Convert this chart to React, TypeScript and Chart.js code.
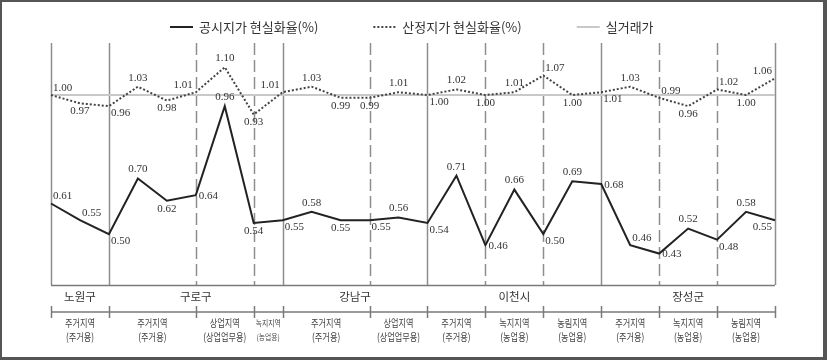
import React, { useEffect, useRef } from 'react';
import { Chart, registerables } from 'chart.js';

Chart.register(...registerables);

// ---- data ----
const gongsi = [0.61, 0.55, 0.50, 0.70, 0.62, 0.64, 0.96, 0.54, 0.55, 0.58, 0.55, 0.55, 0.56, 0.54, 0.71, 0.46, 0.66, 0.50, 0.69, 0.68, 0.46, 0.43, 0.52, 0.48, 0.58, 0.55];
const sanjeong = [1.00, 0.97, 0.96, 1.03, 0.98, 1.01, 1.10, 0.93, 1.01, 1.03, 0.99, 0.99, 1.01, 1.00, 1.02, 1.00, 1.01, 1.07, 1.00, 1.01, 1.03, 0.99, 0.96, 1.02, 1.00, 1.06];
const silgeorae = [1.00, 1.00, 1.00, 1.00, 1.00, 1.00, 1.00, 1.00, 1.00, 1.00, 1.00, 1.00, 1.00, 1.00, 1.00, 1.00, 1.00, 1.00, 1.00, 1.00, 1.00, 1.00, 1.00, 1.00, 1.00, 1.00];

const seriesNames = ['공시지가 현실화율(%)', '산정지가 현실화율(%)', '실거래가'];

const districts = ['노원구', '구로구', '강남구', '이천시', '장성군'];
const districtSpans = [[0, 2], [2, 8], [8, 13], [13, 19], [19, 25]];
const zoneNames = ['주거지역', '주거지역', '상업지역', '녹지지역', '주거지역', '상업지역', '주거지역', '녹지지역', '농림지역', '주거지역', '녹지지역', '농림지역'];
const zoneUses = ['(주거용)', '(주거용)', '(상업업무용)', '(농업용)', '(주거용)', '(상업업무용)', '(주거용)', '(농업용)', '(농업용)', '(주거용)', '(농업용)', '(농업용)'];
const zoneSpans = [[0, 2], [2, 5], [5, 7], [7, 8], [8, 11], [11, 13], [13, 15], [15, 17], [17, 19], [19, 21], [21, 23], [23, 25]];

// label placement (anchor names)
const gongsiAnchor = ['NE', 'NE', 'SE', 'N', 'S', 'E', 'N', 'S', 'SE', 'N', 'S', 'SE', 'N', 'SE', 'N', 'E', 'N', 'SE', 'N', 'E', 'NE', 'E', 'N', 'SE', 'N', 'SW'];
const sanjeongAnchor = ['NE', 'S', 'SE', 'N', 'S', 'NW', 'N', 'S', 'NW', 'N', 'S', 'S', 'N', 'SE', 'N', 'S', 'N', 'NE', 'S', 'SE', 'N', 'NE', 'S', 'NE', 'S', 'NW'];

const pointIds = gongsi.map((_, i) => String(i));

const KR = '"Noto Sans CJK KR", "Noto Sans", sans-serif';
const NUM = '"Liberation Serif", "DejaVu Serif", serif';

const anchorOffsets: Record<string, [number, number, CanvasTextAlign]> = {
  N: [0, -9, 'center'],
  S: [0, 8, 'center'],
  NE: [2, -7, 'left'],
  SE: [2, 7, 'left'],
  NW: [-3, -7, 'right'],
  SW: [-3, 7, 'right'],
  E: [3, 1, 'left'],
};

const decorPlugin = {
  id: 'decor',
  beforeDatasetsDraw(chart: any) {
    const { ctx, chartArea: a, scales } = chart;
    const x = scales.x;
    const px = (i: number) => x.getPixelForValue(i);
    const bounds = new Set<number>();
    zoneSpans.forEach(([s, e]) => { bounds.add(s); bounds.add(e); });
    const solid = new Set<number>();
    districtSpans.forEach(([s, e]) => { solid.add(s); solid.add(e); });
    ctx.save();
    ctx.strokeStyle = '#8e8e8e';
    ctx.lineWidth = 1.5;
    Array.from(bounds).forEach((b) => {
      ctx.setLineDash(solid.has(b) ? [] : [12, 5]);
      ctx.beginPath();
      ctx.moveTo(Math.round(px(b)) + 0.5, a.top);
      ctx.lineTo(Math.round(px(b)) + 0.5, a.bottom);
      ctx.stroke();
    });
    ctx.restore();
  },
  afterDatasetsDraw(chart: any) {
    const { ctx, chartArea: a, scales } = chart;
    const x = scales.x;
    const y = scales.y;
    const px = (i: number) => x.getPixelForValue(i);
    ctx.save();
    // data labels
    ctx.font = `11px ${NUM}`;
    ctx.fillStyle = '#333';
    ctx.textBaseline = 'middle';
    const drawLabels = (vals: number[], anchors: string[]) => {
      vals.forEach((v, i) => {
        const [dx, dy, al] = anchorOffsets[anchors[i]];
        ctx.textAlign = al;
        ctx.fillText(v.toFixed(2), px(i) + dx, y.getPixelForValue(v) + dy);
      });
    };
    drawLabels(sanjeong, sanjeongAnchor);
    drawLabels(gongsi, gongsiAnchor);

    // bottom axis lines
    ctx.strokeStyle = '#7a7a7a';
    ctx.lineWidth = 1.5;
    ctx.setLineDash([]);
    ctx.beginPath();
    ctx.moveTo(a.left, a.bottom + 0.5);
    ctx.lineTo(a.right, a.bottom + 0.5);
    ctx.stroke();
    const y2 = a.bottom + 27;
    ctx.beginPath();
    ctx.moveTo(a.left, y2);
    ctx.lineTo(a.right, y2);
    ctx.stroke();
    const bounds = new Set<number>();
    zoneSpans.forEach(([s, e]) => { bounds.add(s); bounds.add(e); });
    Array.from(bounds).forEach((b) => {
      ctx.beginPath();
      ctx.moveTo(Math.round(px(b)) + 0.5, y2 - 6);
      ctx.lineTo(Math.round(px(b)) + 0.5, y2 + 6);
      ctx.stroke();
    });

    // district labels
    ctx.fillStyle = '#333';
    ctx.font = `11.5px ${KR}`;
    ctx.textAlign = 'center';
    ctx.textBaseline = 'middle';
    districts.forEach((d, i) => {
      const [s, e] = districtSpans[i];
      ctx.fillText(d, (px(s) + px(e)) / 2, a.bottom + 12);
    });

    // zone labels (condensed)
    zoneNames.forEach((z, i) => {
      const [s, e] = zoneSpans[i];
      const cx = (px(s) + px(e)) / 2;
      const narrow = e - s < 2;
      ctx.save();
      ctx.translate(cx, 0);
      ctx.scale(narrow ? 0.85 : 0.78, 1);
      ctx.font = narrow ? `8px ${KR}` : `10.5px ${KR}`;
      ctx.fillStyle = '#444';
      ctx.fillText(z, 0, y2 + 11);
      ctx.fillText(zoneUses[i], 0, y2 + 25);
      ctx.restore();
    });

    // legend
    const ly = 27;
    let lx = 170;
    ctx.font = `13px ${KR}`;
    ctx.textAlign = 'left';
    const styles = [
      { color: '#222', dash: [] as number[] },
      { color: '#444', dash: [2, 2] },
      { color: '#c8c8c8', dash: [] as number[] },
    ];
    seriesNames.forEach((name, i) => {
      ctx.strokeStyle = styles[i].color;
      ctx.lineWidth = 2;
      ctx.setLineDash(styles[i].dash);
      ctx.beginPath();
      ctx.moveTo(lx, ly);
      ctx.lineTo(lx + 23, ly);
      ctx.stroke();
      ctx.setLineDash([]);
      ctx.fillStyle = '#333';
      ctx.fillText(name, lx + 29, ly);
      lx += 29 + ctx.measureText(name).width + 55;
    });
    ctx.restore();
  },
};

export default function App() {
  const ref = useRef<HTMLCanvasElement | null>(null);
  useEffect(() => {
    document.body.style.margin = '0';
    if (!ref.current) return;
    const chart = new Chart(ref.current, {
      type: 'line',
      data: {
        labels: pointIds,
        datasets: [
          {
            label: seriesNames[0],
            data: gongsi,
            borderColor: '#222',
            borderWidth: 2,
            pointRadius: 0,
            tension: 0,
            order: 1,
          },
          {
            label: seriesNames[1],
            data: sanjeong,
            borderColor: '#444',
            borderWidth: 2,
            borderDash: [2, 2],
            pointRadius: 0,
            tension: 0,
            order: 2,
          },
          {
            label: seriesNames[2],
            data: silgeorae,
            borderColor: '#c8c8c8',
            borderWidth: 2,
            pointRadius: 0,
            tension: 0,
            order: 3,
          },
        ],
      },
      options: {
        responsive: false,
        animation: false,
        devicePixelRatio: 1,
        layout: { padding: { left: 51, right: 52, top: 43, bottom: 75 } },
        plugins: { legend: { display: false }, tooltip: { enabled: false } },
        scales: {
          x: { type: 'category', offset: false, display: false },
          y: { min: 0.317, max: 1.187, display: false },
        },
      },
      plugins: [decorPlugin],
    });
    return () => chart.destroy();
  }, []);
  return (
    <div style={{ position: 'relative', width: 827, height: 360, background: '#fff' }}>
      <canvas ref={ref} width={827} height={360} style={{ display: 'block' }} />
      <div
        style={{
          position: 'absolute',
          left: 0,
          top: 0,
          width: 827,
          height: 360,
          boxSizing: 'border-box',
          borderStyle: 'solid',
          borderColor: '#555',
          borderWidth: '2px 4px 3px 2px',
          pointerEvents: 'none',
        }}
      />
    </div>
  );
}
